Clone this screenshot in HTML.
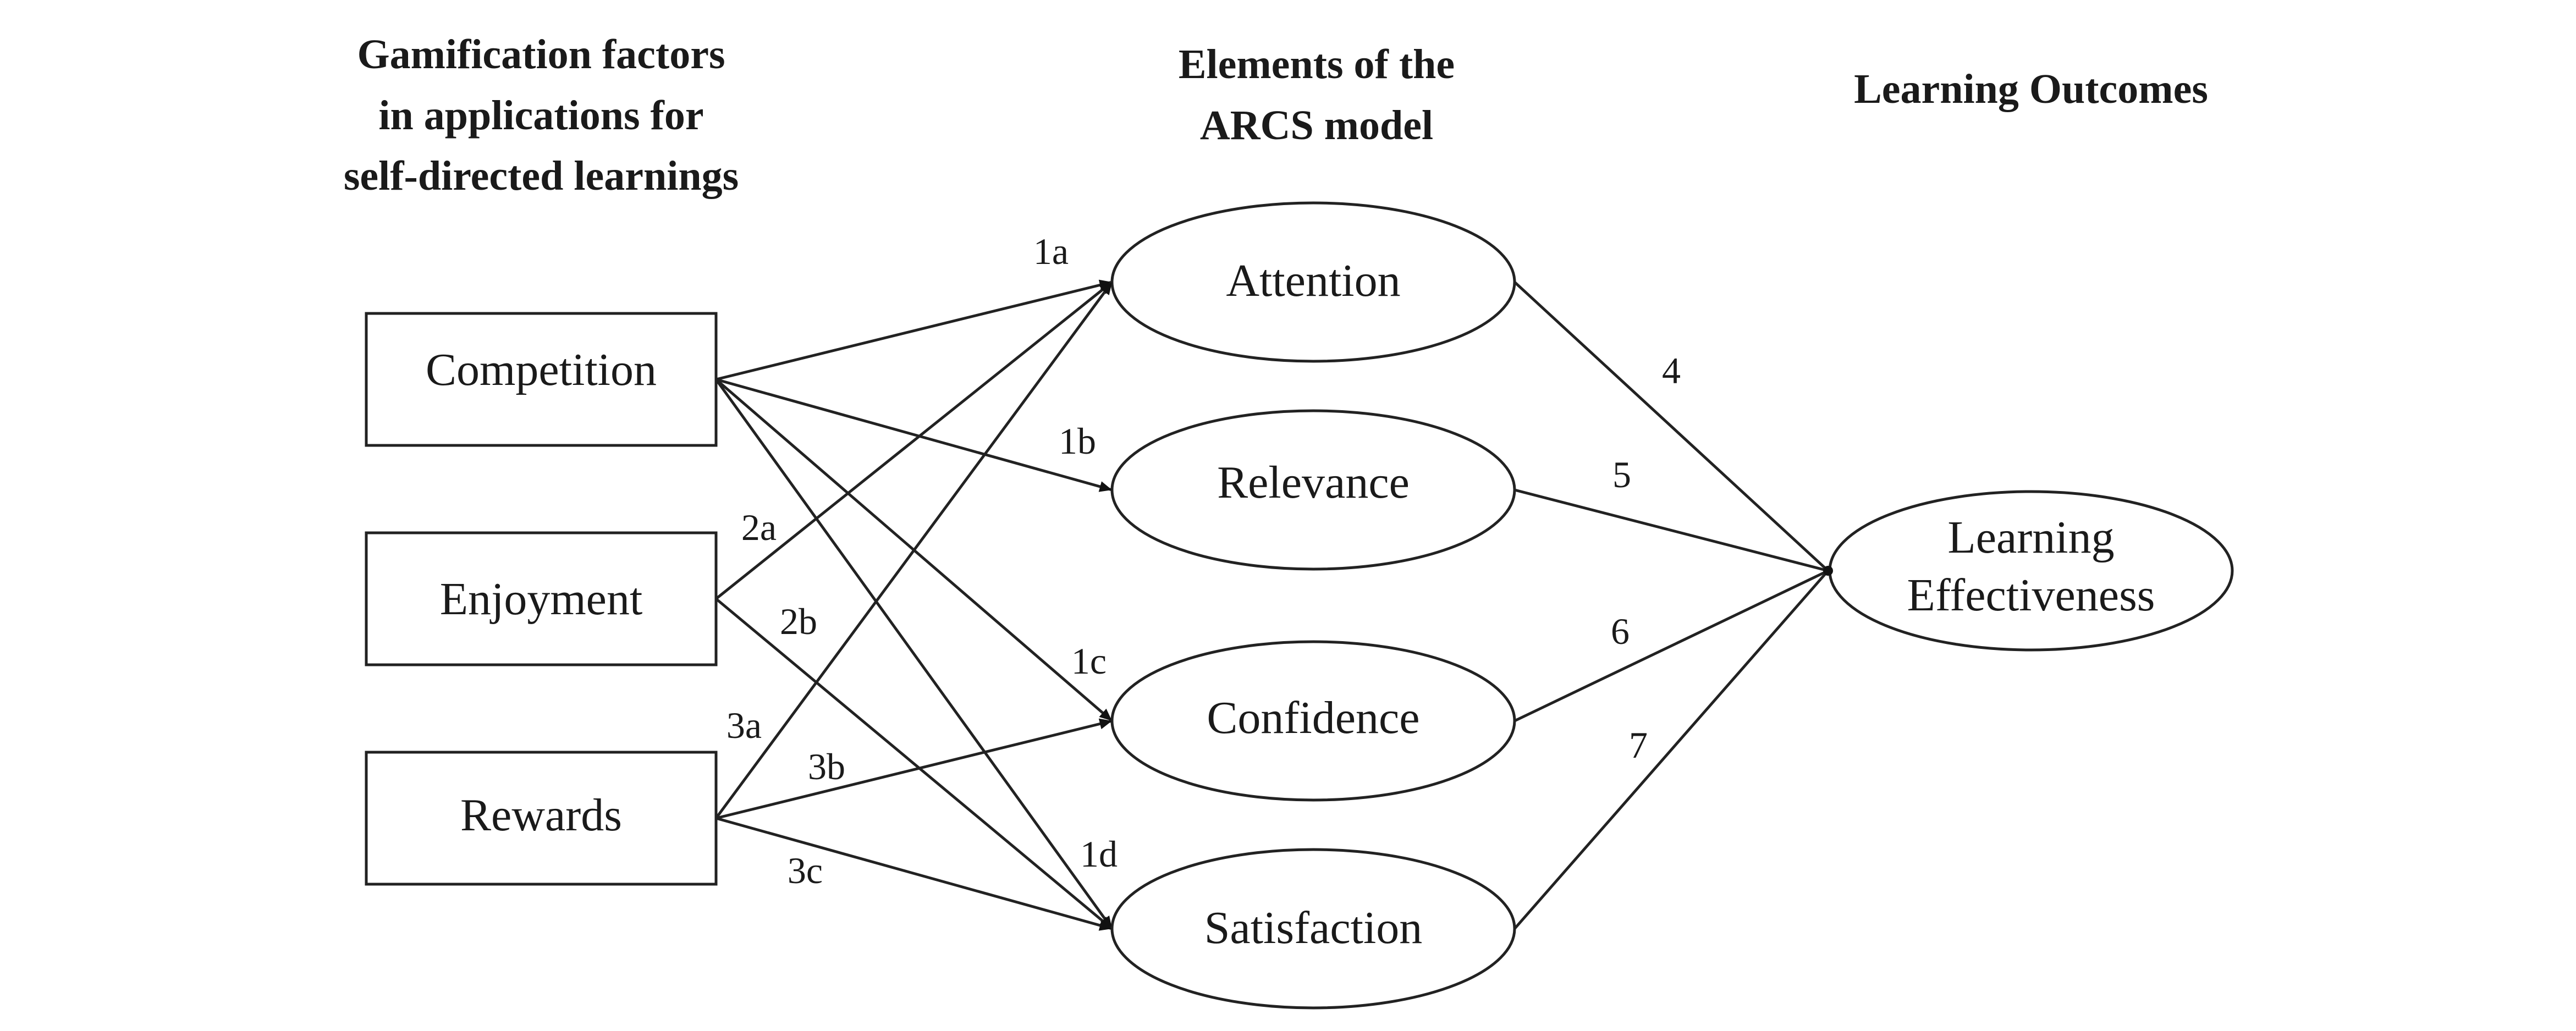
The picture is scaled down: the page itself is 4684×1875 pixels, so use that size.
<!DOCTYPE html>
<html><head><meta charset="utf-8"><style>
html,body{margin:0;padding:0;background:#fff;}
svg{display:block;}
text{font-family:"Liberation Serif",serif;fill:#1a1a1a;}
.h{font-weight:bold;font-size:76px;}
.n{font-size:84px;}
.l{font-size:68px;}
</style></head><body>
<svg width="4684" height="1875" viewBox="0 0 4684 1875" xmlns="http://www.w3.org/2000/svg">
<defs><marker id="a" markerWidth="5" markerHeight="5" refX="4.5" refY="2.5" orient="auto" markerUnits="strokeWidth"><path d="M0,0.5 L4.5,2.5 L0,4.5 z" fill="#111"/></marker></defs>
<g text-anchor="middle">
<text x="984" y="124" class="h">Gamification factors</text>
<text x="984" y="235" class="h">in applications for</text>
<text x="984" y="345" class="h">self-directed learnings</text>
<text x="2394" y="142" class="h">Elements of the</text>
<text x="2394" y="253" class="h">ARCS model</text>
<text x="3693" y="187" class="h">Learning Outcomes</text>
</g>
<g fill="none" stroke="#222" stroke-width="5">
<rect x="666" y="570" width="636" height="240"/>
<rect x="666" y="969" width="636" height="240"/>
<rect x="666" y="1368" width="636" height="240"/>
<ellipse cx="2388" cy="513" rx="366" ry="144"/>
<ellipse cx="2388" cy="891" rx="366" ry="144"/>
<ellipse cx="2388" cy="1311" rx="366" ry="144"/>
<ellipse cx="2388" cy="1689" rx="366" ry="144"/>
<ellipse cx="3693" cy="1038" rx="366" ry="144"/>
<g marker-end="url(#a)">
<line x1="1302" y1="690" x2="2022" y2="513"/>
<line x1="1302" y1="690" x2="2022" y2="891"/>
<line x1="1302" y1="690" x2="2022" y2="1311"/>
<line x1="1302" y1="690" x2="2022" y2="1689"/>
<line x1="1302" y1="1089" x2="2022" y2="513"/>
<line x1="1302" y1="1089" x2="2022" y2="1689"/>
<line x1="1302" y1="1488" x2="2022" y2="513"/>
<line x1="1302" y1="1488" x2="2022" y2="1311"/>
<line x1="1302" y1="1488" x2="2022" y2="1689"/>
</g>
<line x1="2754" y1="513" x2="3324" y2="1038"/>
<line x1="2754" y1="891" x2="3324" y2="1038"/>
<line x1="2754" y1="1311" x2="3324" y2="1038"/>
<line x1="2754" y1="1689" x2="3324" y2="1038"/>
</g>
<circle cx="3324" cy="1038" r="9" fill="#111"/>
<g text-anchor="middle">
<text x="984" y="700" class="n">Competition</text>
<text x="984" y="1117" class="n">Enjoyment</text>
<text x="984" y="1510" class="n">Rewards</text>
<text x="2388" y="538" class="n">Attention</text>
<text x="2388" y="905" class="n">Relevance</text>
<text x="2388" y="1333" class="n">Confidence</text>
<text x="2388" y="1715" class="n">Satisfaction</text>
<text x="3693" y="1005" class="n">Learning</text>
<text x="3693" y="1110" class="n">Effectiveness</text>
</g>
<g text-anchor="middle">
<text x="1911" y="480" class="l">1a</text>
<text x="1959" y="825" class="l">1b</text>
<text x="1380" y="982" class="l">2a</text>
<text x="1452" y="1153" class="l">2b</text>
<text x="1980" y="1225" class="l">1c</text>
<text x="1353" y="1342" class="l">3a</text>
<text x="1503" y="1417" class="l">3b</text>
<text x="1998" y="1576" class="l">1d</text>
<text x="1464" y="1606" class="l">3c</text>
<text x="3039" y="697" class="l">4</text>
<text x="2949" y="886" class="l">5</text>
<text x="2946" y="1171" class="l">6</text>
<text x="2979" y="1378" class="l">7</text>
</g>
</svg>
</body></html>
